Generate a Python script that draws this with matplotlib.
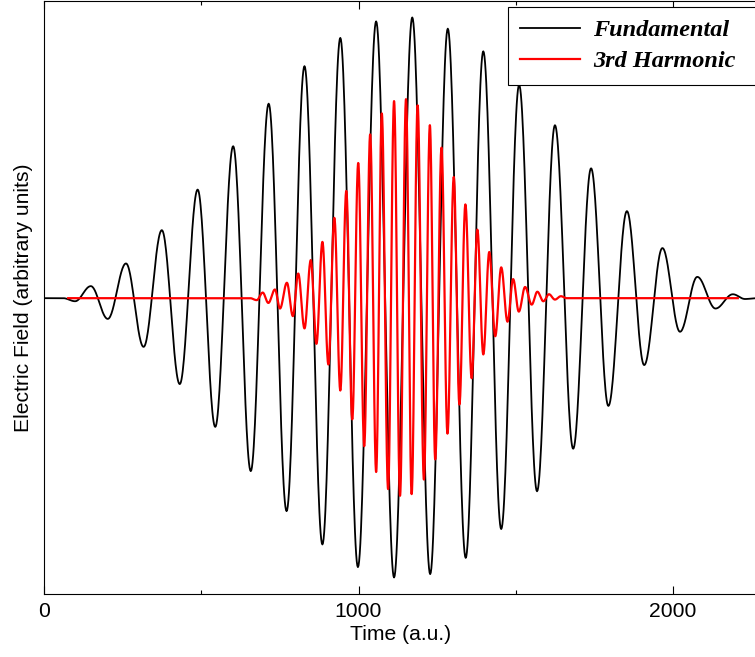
#!/usr/bin/env python3
import numpy as np
import matplotlib

matplotlib.use("Agg")
import matplotlib.pyplot as plt

# Extrema of the fundamental field (time in a.u., field in arb. units)
fund_t = [0, 60, 98, 148, 202, 260, 316, 374, 431, 488, 544, 601, 657, 714, 771, 828,
          885, 942, 998, 1056, 1113, 1171, 1228, 1284, 1341, 1397, 1454, 1511, 1568,
          1625, 1683, 1740, 1795, 1854, 1909, 1967, 2023, 2078, 2136, 2191, 2230, 2268]
fund_e = [0.0, 0.0, -0.011, 0.043, -0.074, 0.124, -0.174, 0.243, -0.307, 0.388, -0.460,
          0.543, -0.618, 0.695, -0.761, 0.829, -0.880, 0.930, -0.961, 0.989, -0.998,
          1.003, -0.986, 0.963, -0.928, 0.882, -0.825, 0.762, -0.690, 0.618, -0.538,
          0.464, -0.385, 0.311, -0.239, 0.179, -0.120, 0.076, -0.037, 0.014, -0.003, 0.0]

# Extrema of the 3rd harmonic field
harm_t = [76, 655, 676, 695, 713, 734, 750, 772, 791, 808, 828, 848, 866, 885, 904, 923,
          942, 961, 980, 999, 1018, 1037, 1056, 1074, 1094, 1113, 1132, 1151, 1169, 1188,
          1208, 1227, 1244, 1264, 1283, 1303, 1321, 1340, 1360, 1378, 1397, 1416, 1435,
          1454, 1474, 1492, 1510, 1530, 1551, 1569, 1588, 1606, 1625, 1644, 1662, 2207]
harm_e = [0.0, 0.0, -0.007, 0.020, -0.017, 0.031, -0.037, 0.055, -0.064, 0.088, -0.108,
          0.136, -0.163, 0.201, -0.237, 0.287, -0.330, 0.383, -0.433, 0.483, -0.529,
          0.585, -0.621, 0.660, -0.682, 0.704, -0.706, 0.711, -0.700, 0.689, -0.648,
          0.618, -0.576, 0.538, -0.484, 0.433, -0.380, 0.335, -0.286, 0.245, -0.201,
          0.165, -0.136, 0.110, -0.084, 0.068, -0.048, 0.040, -0.023, 0.023, -0.011,
          0.014, -0.005, 0.007, 0.0, 0.0]

series_labels = ["Fundamental", "3rd Harmonic"]


def through_extrema(t_ext, e_ext, n=30):
    # join successive extrema with half-cosine arcs
    ts, es = [], []
    for i in range(len(t_ext) - 1):
        s = np.linspace(0, 1, n, endpoint=False)
        ts.append(t_ext[i] + s * (t_ext[i + 1] - t_ext[i]))
        es.append(e_ext[i + 1] + (e_ext[i] - e_ext[i + 1]) * (1 + np.cos(np.pi * s)) / 2)
    ts.append([t_ext[-1]])
    es.append([e_ext[-1]])
    return np.concatenate(ts), np.concatenate(es)


plt.rcParams["font.family"] = ["Liberation Sans", "DejaVu Sans"]

fig = plt.figure(figsize=(7.55, 6.57), dpi=100)
ax = fig.add_axes([44.3 / 755, 63 / 657, (757 - 44.3) / 755, (594 - 0.8) / 657])

t1, e1 = through_extrema(fund_t, fund_e)
t3, e3 = through_extrema(harm_t, harm_e)
ax.plot(t1, e1, color="black", lw=1.3, label=series_labels[0])
ax.plot(t3, e3, color="red", lw=1.6, label=series_labels[1])

ax.set_xlim(0, 2268)
ax.set_ylim(-1.057, 1.0625)
ax.set_xticks([0, 1000, 2000])
ax.set_xticks([500, 1500], minor=True)
ax.set_yticks([])
ax.tick_params(axis="x", which="both", direction="in", top=True, labelsize=15.2, pad=6)
ax.tick_params(axis="x", which="major", length=5.5, width=0.8)
ax.tick_params(axis="x", which="minor", length=3, width=0.8)
for sp in ax.spines.values():
    sp.set_linewidth(0.8)

ax.set_xlabel("Time (a.u.)", fontsize=15.2, labelpad=3)
ax.set_ylabel("Electric Field (arbitrary units)", fontsize=15.2, labelpad=8)

# legend box runs past the right edge of the figure, as in the original
leg = ax.legend(
    loc="upper left",
    bbox_to_anchor=(508 / 755, 0, 262 / 755, 1 - 7 / 657),
    bbox_transform=fig.transFigure,
    mode="expand",
    borderaxespad=0,
    fancybox=False,
    framealpha=1,
    edgecolor="black",
    handlelength=2.47,
    handletextpad=0.53,
    labelspacing=0.38,
    borderpad=0.5,
    prop={"family": "Liberation Serif", "weight": "bold", "style": "italic", "size": 17.5},
)
leg.get_frame().set_linewidth(0.8)

fig.savefig("out.png", dpi=100)
